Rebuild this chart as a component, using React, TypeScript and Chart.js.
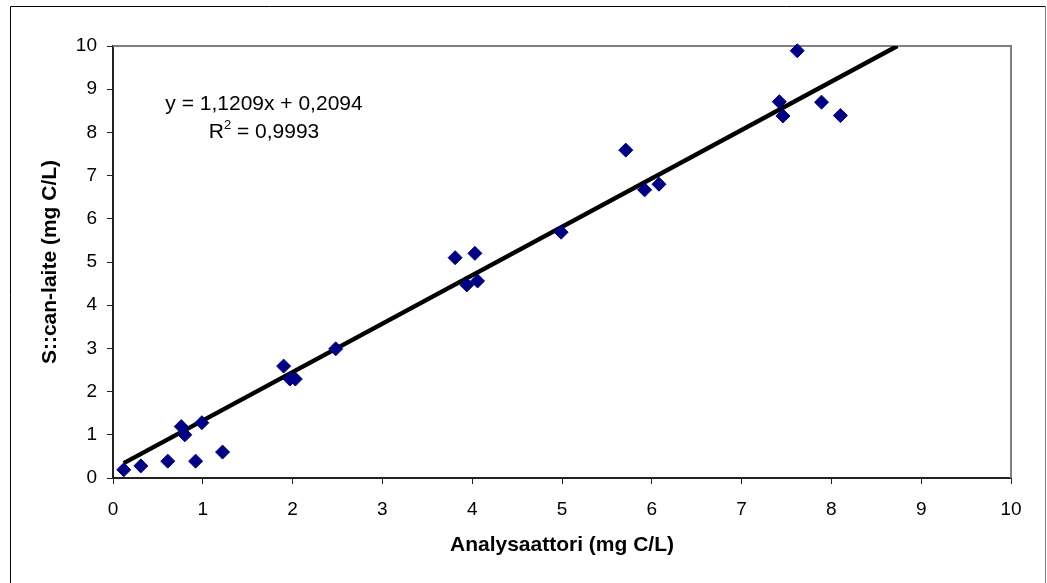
import React, { useEffect, useRef } from "react";
import { Chart, registerables } from "chart.js";

Chart.register(...registerables);

const xValues = [0.12, 0.31, 0.61, 0.76, 0.8, 0.92, 0.99, 1.22, 1.9, 1.97, 2.03, 2.48, 3.81, 3.94, 4.03, 4.06, 4.99, 5.71, 5.92, 6.08, 7.42, 7.46, 7.62, 7.89, 8.1];
const yValues = [0.19, 0.28, 0.39, 1.19, 1.0, 0.39, 1.28, 0.6, 2.59, 2.29, 2.29, 2.99, 5.1, 4.47, 5.2, 4.56, 5.69, 7.59, 6.67, 6.8, 8.71, 8.38, 9.89, 8.7, 8.39];
const slope = 1.1209;
const intercept = 0.2094;
const r2 = "0,9993";
const eqText = "y = 1,1209x + 0,2094";
const xTitle = "Analysaattori (mg C/L)";
const yTitle = "S::can-laite (mg C/L)";
const axisMin = 0;
const axisMax = 10;

const FONT = "'Liberation Sans', Arial, sans-serif";

export default function App() {
  const ref = useRef<HTMLCanvasElement | null>(null);

  useEffect(() => {
    document.body.style.margin = "0";
    const canvas = ref.current;
    if (!canvas) return;
    const points = xValues.map((x, i) => ({ x, y: yValues[i] }));
    const x0 = Math.min(...xValues);
    const x1 = (axisMax - intercept) / slope;
    const trend = [
      { x: x0, y: slope * x0 + intercept },
      { x: x1, y: slope * x1 + intercept },
    ];

    const decor = {
      id: "decor",
      beforeDraw(chart: any) {
        const ctx = chart.ctx;
        ctx.save();
        ctx.fillStyle = "#fff";
        ctx.fillRect(0, 0, chart.width, chart.height);
        ctx.lineWidth = 1;
        ctx.strokeStyle = "#000";
        ctx.beginPath();
        ctx.moveTo(10.5, chart.height + 5);
        ctx.lineTo(10.5, 6.5);
        ctx.lineTo(1045.5, 6.5);
        ctx.stroke();
        ctx.strokeStyle = "#808080";
        ctx.beginPath();
        ctx.moveTo(1045.5, 6.5);
        ctx.lineTo(1045.5, chart.height + 5);
        ctx.stroke();
        ctx.restore();
      },
      beforeDatasetsDraw(chart: any) {
        const ctx = chart.ctx;
        const a = chart.chartArea;
        ctx.save();
        ctx.strokeStyle = "#808080";
        ctx.lineWidth = 2;
        ctx.beginPath();
        ctx.moveTo(a.left, a.top);
        ctx.lineTo(a.right, a.top);
        ctx.lineTo(a.right, a.bottom);
        ctx.stroke();
        ctx.restore();
      },
      afterDraw(chart: any) {
        const ctx = chart.ctx;
        ctx.save();
        ctx.fillStyle = "#000";
        ctx.textBaseline = "alphabetic";
        ctx.font = `21px ${FONT}`;
        const cx = 264;
        const w1 = ctx.measureText(eqText).width;
        ctx.fillText(eqText, cx - w1 / 2, 110);
        const supFont = `13px ${FONT}`;
        const rest = " = " + r2;
        const wR = ctx.measureText("R").width;
        const wRest = ctx.measureText(rest).width;
        ctx.font = supFont;
        const wSup = ctx.measureText("2").width;
        const total = wR + wSup + wRest;
        let sx = cx - total / 2;
        ctx.font = `21px ${FONT}`;
        ctx.fillText("R", sx, 138);
        sx += wR;
        ctx.font = supFont;
        ctx.fillText("2", sx, 129);
        sx += wSup;
        ctx.font = `21px ${FONT}`;
        ctx.fillText(rest, sx, 138);
        ctx.restore();
      },
    };

    const chart = new Chart(canvas, {
      type: "scatter",
      data: {
        datasets: [
          {
            type: "line",
            data: trend,
            borderColor: "#000",
            borderWidth: 4.5,
            pointRadius: 0,
            fill: false,
            order: 2,
          } as any,
          {
            type: "scatter",
            data: points,
            pointStyle: "rectRot",
            pointRadius: 7,
            pointBackgroundColor: "#000080",
            pointBorderColor: "#000080",
            pointBorderWidth: 1,
            clip: false,
            order: 1,
          } as any,
        ],
      },
      options: {
        responsive: false,
        animation: false,
        layout: { padding: { top: 46, right: 36, left: 0, bottom: 0 } },
        plugins: { legend: { display: false }, tooltip: { enabled: false } },
        scales: {
          x: {
            type: "linear",
            min: axisMin,
            max: axisMax,
            afterFit(scale: any) {
              scale.height = 105;
            },
            ticks: {
              stepSize: 1,
              color: "#000",
              padding: 14,
              font: { family: FONT, size: 19 },
            },
            grid: { drawOnChartArea: false, drawTicks: true, tickLength: 6, color: "#222", lineWidth: 1 },
            border: { display: true, color: "#222", width: 2 },
            title: {
              display: true,
              text: xTitle,
              color: "#000",
              font: { family: FONT, size: 21, weight: "bold" },
              padding: { top: 0, bottom: 25 },
            },
          },
          y: {
            type: "linear",
            min: axisMin,
            max: axisMax,
            afterFit(scale: any) {
              scale.width = 113;
            },
            ticks: {
              stepSize: 1,
              color: "#000",
              padding: 10,
              font: { family: FONT, size: 19 },
            },
            grid: { drawOnChartArea: false, drawTicks: true, tickLength: 6, color: "#222", lineWidth: 1 },
            border: { display: true, color: "#222", width: 2 },
            title: {
              display: true,
              text: yTitle,
              color: "#000",
              font: { family: FONT, size: 21, weight: "bold" },
              padding: { top: 38, bottom: 0 },
            },
          },
        },
      },
      plugins: [decor],
    });
    return () => chart.destroy();
  }, []);

  return <canvas ref={ref} width={1047} height={583} style={{ display: "block" }} />;
}
